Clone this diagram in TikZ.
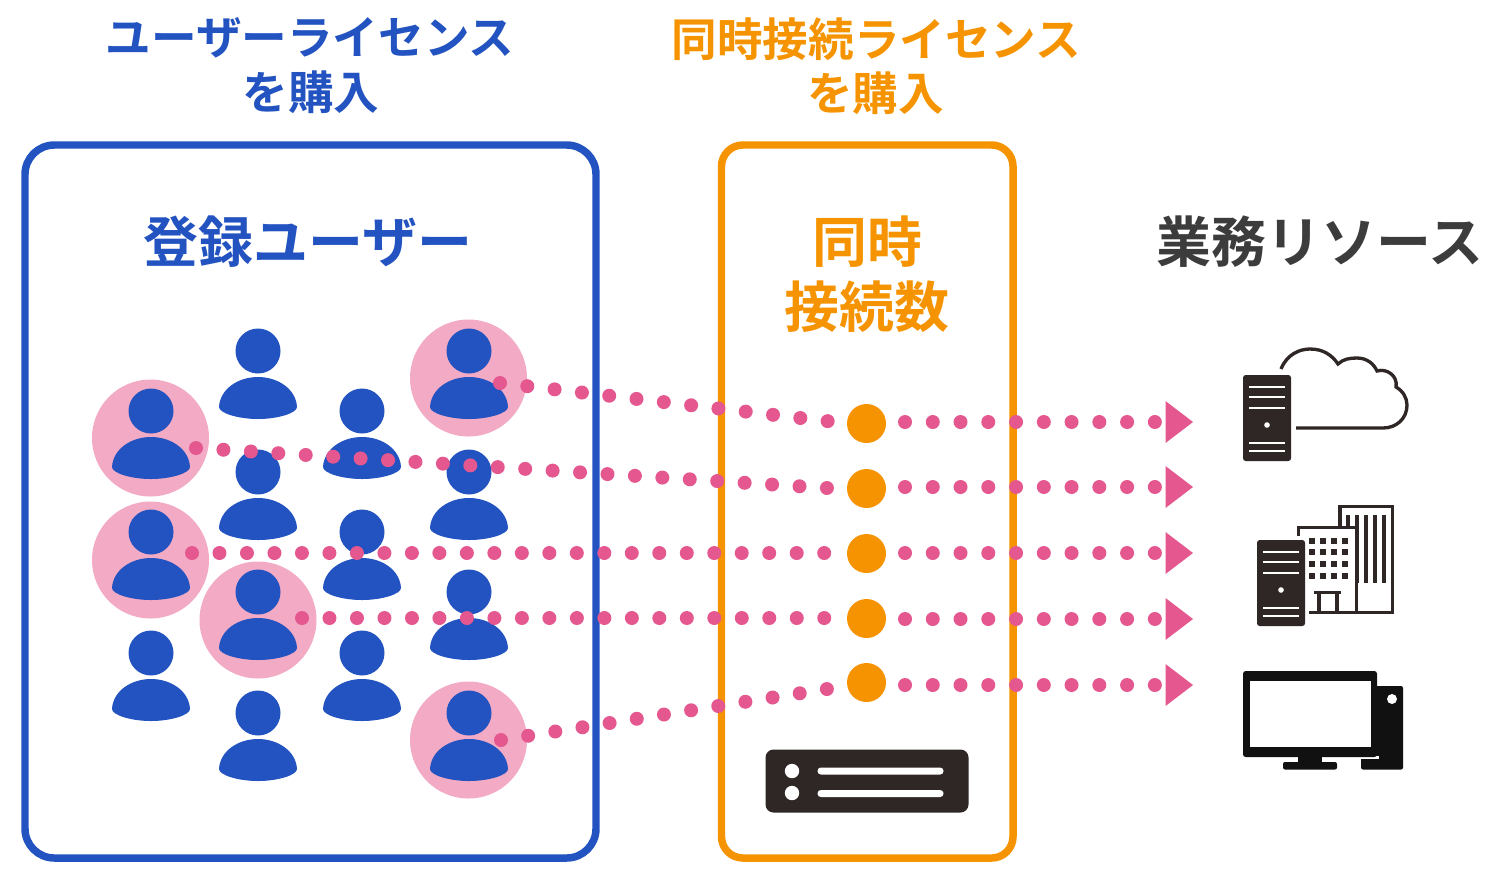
\documentclass[tikz,border=0pt]{standalone}
\usepackage{fontspec}
\setmainfont{Noto Sans CJK JP Bold}
\definecolor{ublue}{HTML}{2253C0}
\definecolor{uorange}{HTML}{F59300}
\definecolor{lpink}{HTML}{F2AAC5}
\definecolor{dpink}{HTML}{E5588F}
\definecolor{dark}{HTML}{2E2725}
\definecolor{mono}{HTML}{111111}
\definecolor{gtext}{HTML}{3C3C3C}
\tikzset{
  px/.style={x=0.75pt,y=-0.75pt},
  headline/.style={font=\fontsize{34.2pt}{40pt}\selectfont,inner sep=0pt,anchor=center},
  bigline/.style={font=\fontsize{41.2pt}{48pt}\selectfont,inner sep=0pt,anchor=center},
  frame/.style={line width=5.6pt,fill=none},
  halo/.style={circle,fill=lpink,minimum size=87.75pt,inner sep=0pt},
  leftdots/.style={dpink,line width=10.5pt,line cap=round,dash pattern=on 0pt off 20.615pt},
  rightdots/.style={dpink,line width=10.5pt,line cap=round,dash pattern=on 0pt off 20.82pt},
  orangedot/.style={circle,fill=uorange,minimum size=29.25pt,inner sep=0pt},
  whiteline/.style={draw=white,line width=1.5pt},
  iconline/.style={draw=dark,line width=2.5pt}
}
\newcommand{\userfig}[2]{%
  \fill[ublue] (#1,#2) circle (22.5);
  \fill[ublue] ({#1-39},{#2+56}) .. controls ({#1-38},{#2+38}) and ({#1-20},{#2+26}) .. (#1,{#2+26})
     .. controls ({#1+20},{#2+26}) and ({#1+38},{#2+38}) .. ({#1+39},{#2+56})
     .. controls ({#1+39},{#2+62}) and ({#1+20},{#2+68}) .. (#1,{#2+68})
     .. controls ({#1-20},{#2+68}) and ({#1-39},{#2+62}) .. ({#1-39},{#2+56}) -- cycle;
}
\newcommand{\servericon}[2]{%
  \fill[white] ({#1-4},{#2-4}) rectangle ({#1+52},{#2+90});
  \fill[dark,rounded corners=2pt] (#1,#2) rectangle ({#1+48},{#2+86});
  \foreach \yy in {11.5,21.5,32.5,67.5,75.5}{\draw[whiteline] ({#1+6},{#2+\yy}) -- ({#1+42},{#2+\yy});}
  \fill[white] ({#1+24},{#2+50}) circle (2.8);
}
\newcommand{\arrowtri}[2]{\fill[dpink] (#1,{#2-21}) -- ({#1+27.5},#2) -- (#1,{#2+21}) -- cycle;}
\begin{document}
\begin{tikzpicture}[px]
\useasboundingbox (0,0) rectangle (1501,876);
% titles
\node[headline,text=ublue] (t1) at (310,37.5) {ユーザーライセンス};
\node[headline,text=ublue] (t2) at (311,92) {を購入};
\node[headline,text=uorange] (t3) at (876.5,39.5) {同時接続ライセンス};
\node[headline,text=uorange] (t4) at (875.5,93) {を購入};
% frames
\draw[frame,draw=ublue,rounded corners=22pt] (25,145) rectangle (596,858);
\draw[frame,draw=uorange,rounded corners=16pt] (721.5,145) rectangle (1013,858);
\node[bigline,text=ublue] (t5) at (308,242) {登録ユーザー};
\node[bigline,text=uorange] (t6) at (867,242) {同時};
\node[bigline,text=uorange] (t7) at (867,307) {接続数};
\node[bigline,text=gtext] (t8) at (1320,242) {業務リソース};
% highlighted users
\node[halo] (h1) at (468.5,378) {};
\node[halo] (h2) at (150.5,438) {};
\node[halo] (h3) at (150.5,560) {};
\node[halo] (h4) at (258,620) {};
\node[halo] (h5) at (468.5,740) {};
% users
\userfig{258}{351}\userfig{469}{351}
\userfig{151}{411}\userfig{362}{411}
\userfig{258}{472}\userfig{469}{472}
\userfig{151}{532}\userfig{362}{532}
\userfig{258}{592}\userfig{469}{592}
\userfig{151}{653}\userfig{362}{653}
\userfig{258}{713}\userfig{469}{713}
% connections
\node[orangedot] (o1) at (866.5,423.5) {};
\node[orangedot] (o2) at (866.5,488.5) {};
\node[orangedot] (o3) at (866.5,553.5) {};
\node[orangedot] (o4) at (866.5,618.5) {};
\node[orangedot] (o5) at (866.5,682.5) {};
\coordinate (a1) at (500,383); \coordinate (b1) at (828,421.2);
\coordinate (a2) at (196,448); \coordinate (b2) at (827,488);
\coordinate (a3) at (192,553); \coordinate (b3) at (825.2,553);
\coordinate (a4) at (302,618); \coordinate (b4) at (825.2,618);
\coordinate (a5) at (501,740); \coordinate (b5) at (827,689);
\coordinate (c1) at (905,422); \coordinate (d1) at (1155.2,422);
\coordinate (c2) at (905,487); \coordinate (d2) at (1155.2,487);
\coordinate (c3) at (905,553); \coordinate (d3) at (1155.2,553);
\coordinate (c4) at (905,619); \coordinate (d4) at (1155.2,619);
\coordinate (c5) at (905,685); \coordinate (d5) at (1155.2,685);
\foreach \i in {1,...,5}{
  \draw[leftdots] (a\i) -- (b\i);
  \draw[rightdots] (c\i) -- (d\i);
}
\arrowtri{1165.5}{422}\arrowtri{1165.5}{487}\arrowtri{1165.5}{553}\arrowtri{1165.5}{619}\arrowtri{1165.5}{685}
% rack
\fill[dark,rounded corners=6pt] (765.5,749.5) rectangle (968.5,812.5);
\fill[white] (792,771) circle (7.2) (792,793) circle (7.2);
\fill[white,rounded corners=2.5pt] (817.5,767.5) rectangle (943.5,774.5) (817.5,790) rectangle (943.5,797);
% cloud
\draw[iconline,line cap=butt] (1281,369) .. controls (1287,354) and (1300,349) .. (1310,349)
  .. controls (1323,349) and (1332,355) .. (1338,364)
  .. controls (1343,359) and (1350,358) .. (1357,358)
  .. controls (1367,358) and (1374,364) .. (1377,371)
  .. controls (1387,368) and (1398,376) .. (1396,387)
  .. controls (1403,391) and (1407,398) .. (1407,405)
  .. controls (1407,419) and (1396,428) .. (1383,428) -- (1296,428);
\servericon{1243}{375}
% buildings
\draw[iconline] (1340,527) -- (1340,506.5) -- (1392.5,506.5) -- (1392.5,612.5) -- (1305,612.5);
\draw[iconline] (1298.5,540) -- (1298.5,527.5) -- (1356.5,527.5) -- (1356.5,612.5);
\foreach \xx in {1348,1357}{\draw[iconline] (\xx,515) -- (\xx,527);}
\draw[iconline] (1357,527) -- (1357,583);
\foreach \xx in {1366,1375,1384}{\draw[iconline] (\xx,515) -- (\xx,583);}
\foreach \yy in {537.5,549,561,572.5}{\foreach \xx in {1308.5,1319.5,1330.5,1341.5}{\fill[dark] (\xx,\yy) rectangle ({\xx+6},{\yy+6});}}
\draw[iconline] (1314,592.5) -- (1341,592.5);
\draw[iconline] (1319,592) -- (1319,612) (1337,592) -- (1337,612);
\servericon{1257}{540}
% desktop
\fill[mono,rounded corners=1.5pt] (1361,686) rectangle (1403,769.5);
\fill[white] (1392,699) circle (5);
\fill[white] (1358,756) rectangle (1378.5,758.5);
\fill[mono,rounded corners=2pt] (1243,671) rectangle (1377,757);
\fill[white] (1249.5,680.5) rectangle (1370.5,747);
\fill[mono] (1298,757) rectangle (1321.5,763);
\fill[mono,rounded corners=1.5pt] (1283,762) rectangle (1337,769.5);
\end{tikzpicture}
\end{document}
